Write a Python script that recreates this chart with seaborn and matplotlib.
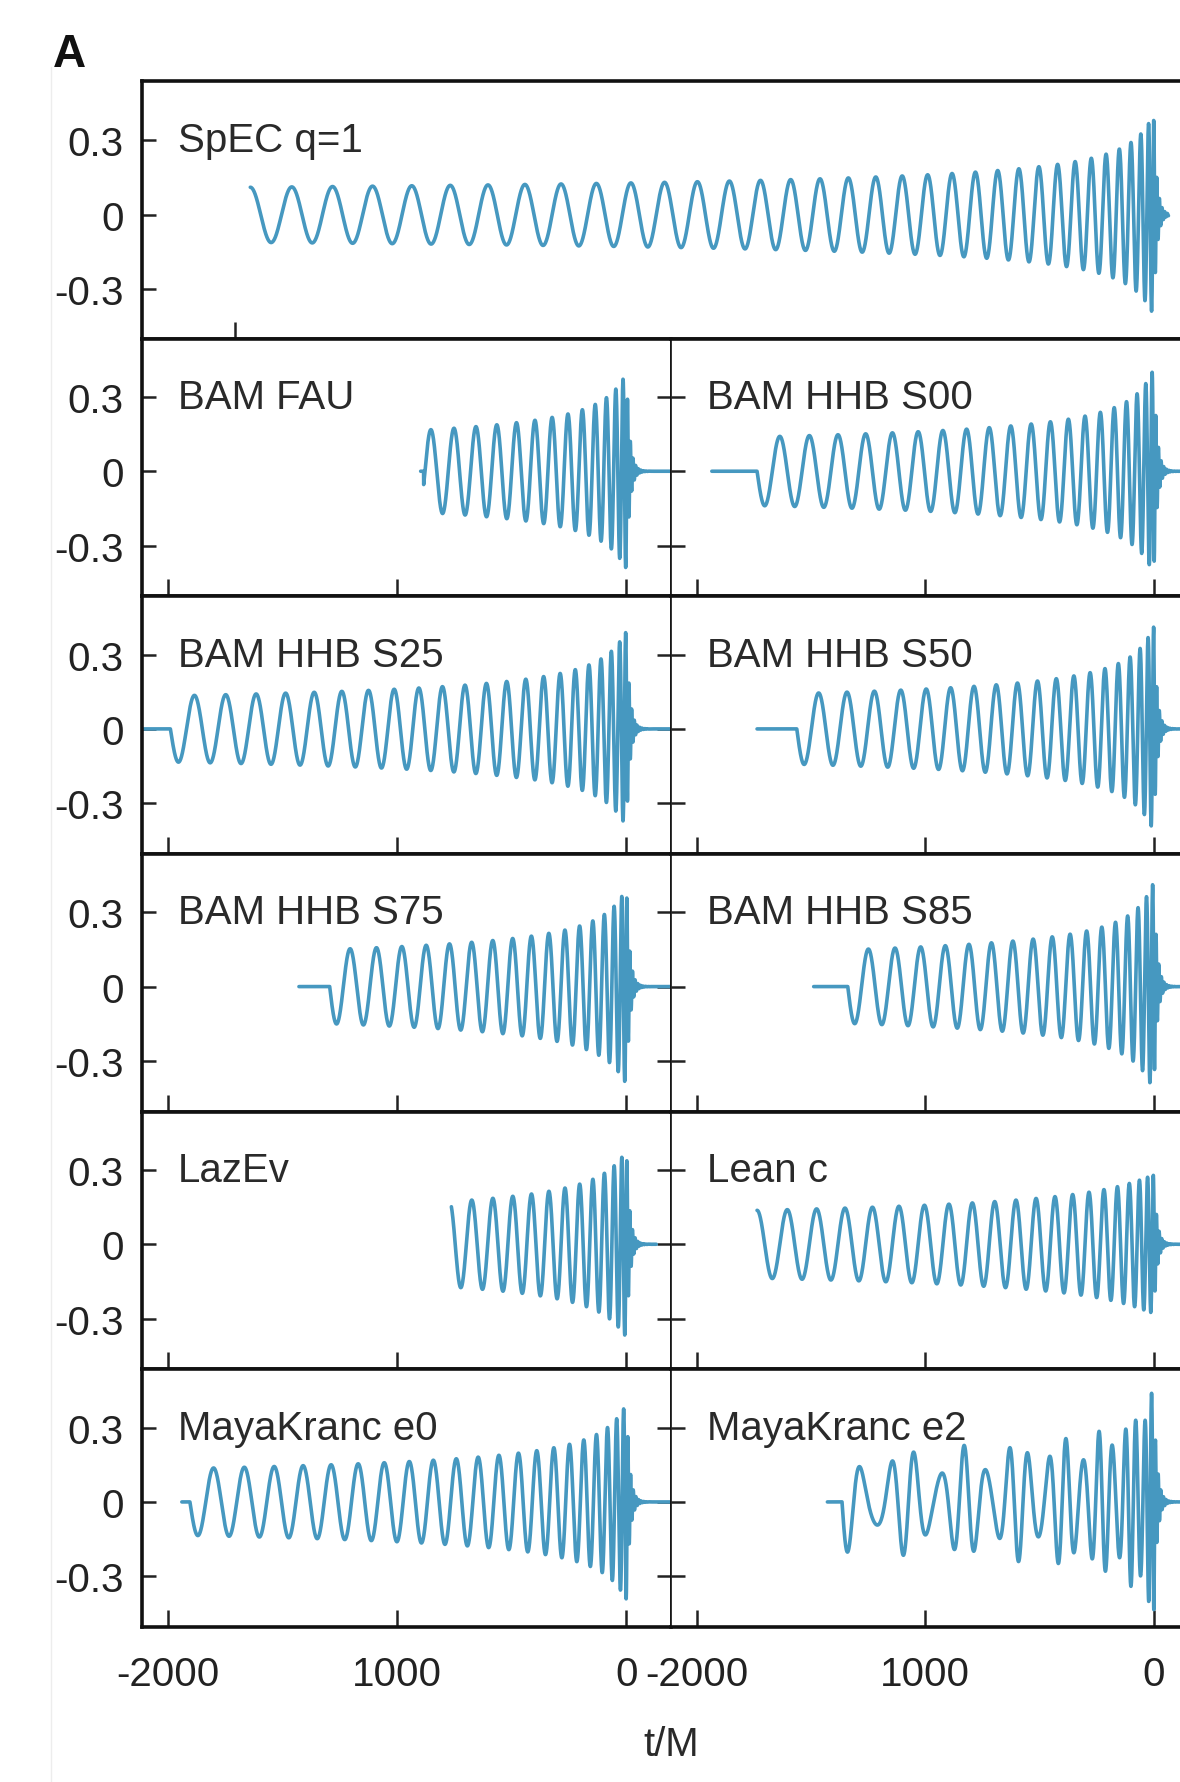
import numpy as np
import pandas as pd
import seaborn as sns
import matplotlib.pyplot as plt
from matplotlib.lines import Line2D

# panels in reading order: the wide top one, then the 5 rows of 2
labels = ['SpEC q=1', 'BAM FAU', 'BAM HHB S00', 'BAM HHB S25', 'BAM HHB S50',
          'BAM HHB S75', 'BAM HHB S85', 'LazEv', 'Lean c', 'MayaKranc e0', 'MayaKranc e2']
# t/M where each trace starts, where it starts to oscillate, and where it stops
t_begin = [-3935, -898, -1935, -2114, -1737, -1429, -1489, -764, -1737, -1940, -1429]
t_osc = [-3935, -885, -1737, -1990, -1563, -1295, -1340, -764, -1737, -1905, -1365]
t_end = [65, 194, 260, 194, 260, 194, 260, 130, 260, 194, 260]
# phase of the first cycle, peak strain, eccentricity
phase0 = [0.0, -1.9, 1.57, 1.57, 1.57, 1.57, 1.57, 0.5, 0.0, 1.57, 1.57]
peak_amp = [0.41, 0.40, 0.42, 0.40, 0.42, 0.40, 0.43, 0.38, 0.28, 0.40, 0.44]
ecc = [0, 0, 0, 0, 0, 0, 0, 0, 0, 0, 0.3]

y_ticks = [-0.3, 0, 0.3]
y_tick_labels = ['-0.3', '0', '0.3']
x_ticks = [-2000, -1000, 0]
x_tick_labels = ['-2000', '1000', '0']
top_x_ticks = [-4000]

COLOR = '#4698c0'


def waveform(i, dt=0.4):
    # leading order chirp (eta=1/4) plus a short ringdown
    t = np.arange(t_begin[i], t_end[i] + dt, dt)
    tau = np.clip(-t, 0, None) + 7.5
    omega = 0.25 * (20.0 / tau) ** 0.375
    post = t > 0
    omega[post] = 0.55 - 0.19 * np.exp(-t[post] / 6.0)
    phi = np.cumsum(omega) * dt
    k0 = np.searchsorted(t, t_osc[i])
    phi = phi - phi[k0]
    a = omega ** (2 / 3) * (1 + 1.5 * omega)
    amp = (a ** -4 + peak_amp[i] ** -4) ** -0.25
    amp[post] = peak_amp[i] * np.exp(-t[post] / 14.0)
    if ecc[i] > 0:
        et = ecc[i] * (omega[k0] / omega) ** 1.05
        psi = 0.42 * phi
        amp = amp * (1 + 1.4 * et * np.cos(psi))
        phi = phi + 2 * et * np.sin(psi)
    h = amp * np.cos(phi + phase0[i])
    h[t < t_osc[i]] = 0.0
    return pd.DataFrame({'t': t, 'h': h})


sns.set_style('ticks')
plt.rcParams['font.family'] = ['Liberation Sans', 'DejaVu Sans']
plt.rcParams['font.size'] = 29

fig = plt.figure(figsize=(11.8, 17.83), dpi=100)

left, mid, right = 0.1203, 0.5686, 1.0153
top, bottom = 0.954, 0.0869
row_h = (top - bottom) / 6

axes = []
ax = fig.add_axes([left, top - row_h, right - left, row_h])
ax.set_xlim(-4407, 194)
axes.append((ax, 'top'))
for r in range(5):
    y0 = top - (r + 2) * row_h
    axes.append((fig.add_axes([left, y0, mid - left, row_h]), 'L%d' % r))
    axes.append((fig.add_axes([mid, y0, right - mid, row_h]), 'R%d' % r))

for i, (ax, pos) in enumerate(axes):
    df = waveform(i)
    sns.lineplot(data=df, x='t', y='h', ax=ax, color=COLOR, lw=2.6,
                 estimator=None, sort=False, legend=False)
    ax.set_xlabel('')
    ax.set_ylabel('')
    ax.set_yticks(y_ticks)
    if pos == 'top':
        ax.set_ylim(-0.50, 0.54)
        ax.set_xticks(top_x_ticks)
        ax.set_xticklabels([])
    else:
        ax.set_ylim(-0.505, 0.535)
        ax.set_xlim(-2114, 194)
        ax.set_xticks(x_ticks)
        if pos[1] == '4':
            ax.set_xticklabels(x_tick_labels)
        else:
            ax.set_xticklabels([])
    if pos == 'top' or pos[0] == 'L':
        ax.set_yticklabels(y_tick_labels)
    else:
        ax.set_yticklabels([])
    ax.tick_params(axis='y', direction='in', length=10, width=1.8,
                   left=True, right=True, pad=13, colors='#222222')
    ax.tick_params(axis='x', direction='in', length=12, width=1.8,
                   bottom=True, top=False, pad=20, colors='#222222')
    for s in ax.spines.values():
        s.set_linewidth(2.6)
        s.set_color('#111111')
    if pos[0] == 'L':
        ax.spines['right'].set_linewidth(1.2)
    if pos[0] == 'R':
        ax.spines['left'].set_linewidth(1.2)
    ax.annotate(labels[i], xy=(0, 0.3), xycoords=('axes fraction', 'data'),
                xytext=(26, 0), textcoords='offset points', va='center',
                ha='left', color='#2a2a2a')

fig.text(mid, 0.0213, 't/M', ha='center', va='center', color='#2a2a2a')
fig.text(0.045, 0.969, 'A', ha='left', va='center', fontsize=33,
         fontweight='bold', color='#111111')
fig.add_artist(Line2D([0.043, 0.043], [0.0, 0.962], color='#ededed', lw=1))

fig.savefig('out.png', dpi=100)
